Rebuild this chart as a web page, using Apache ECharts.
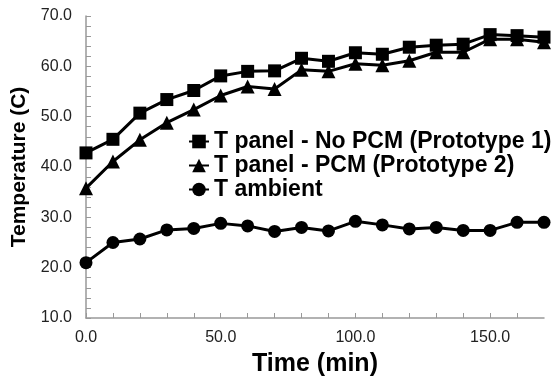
<!DOCTYPE html>
<html>
<head>
<meta charset="utf-8">
<script src="https://cdn.jsdelivr.net/npm/echarts@6/dist/echarts.min.js"></script>
<style>
  html, body { margin: 0; padding: 0; background: #fff; }
  #chart { width: 554px; height: 378px; }
</style>
</head>
<body>
<div id="chart"></div>
<script>
// time in minutes
const timeMin = [0, 10, 20, 30, 40, 50, 60, 70, 80, 90, 100, 110, 120, 130, 140, 150, 160, 170]
const panelNoPcm = [42.8, 45.5, 50.7, 53.4, 55.2, 58.1, 59.0, 59.1, 61.6, 61.0, 62.7, 62.4, 63.8, 64.2, 64.4, 66.3, 66.1, 65.8]
const panelPcm = [35.8, 41.1, 45.4, 48.8, 51.4, 54.2, 56.0, 55.5, 59.3, 59.0, 60.5, 60.2, 61.1, 62.8, 62.8, 65.4, 65.4, 64.8]
const ambient = [21.0, 25.0, 25.7, 27.5, 27.8, 28.8, 28.3, 27.2, 28.0, 27.3, 29.2, 28.5, 27.7, 28.0, 27.4, 27.4, 29.0, 29.0]
const seriesNames = ['T panel - No PCM (Prototype 1)', 'T panel - PCM (Prototype 2)', 'T ambient']

const chart = echarts.init(document.getElementById('chart'))

const pairs = vals => timeMin.map((t, i) => [t, vals[i]])

const lineSeries = (name, vals, symbol, size) => ({
  name: name,
  type: 'line',
  data: pairs(vals),
  symbol: symbol,
  symbolSize: size,
  color: '#000',
  lineStyle: { width: 3, color: '#000' },
  itemStyle: { color: '#000' },
  animation: false
})

const axisGray = '#999'

chart.setOption({
  textStyle: { fontFamily: 'Liberation Sans, Arial, sans-serif' },
  grid: { left: 86, right: 10, top: 16, bottom: 60, outerBoundsMode: 'none' },
  legend: {
    orient: 'vertical',
    left: 183,
    top: 125,
    itemGap: 1,
    itemWidth: 20,
    itemHeight: 17,
    textStyle: { fontSize: 23, fontWeight: 'bold', color: '#000' },
    data: seriesNames
  },
  xAxis: {
    type: 'value',
    min: 0,
    max: 170,
    interval: 10,
    name: 'Time (min)',
    nameLocation: 'middle',
    nameGap: 34,
    nameTextStyle: { fontSize: 25, fontWeight: 'bold', color: '#000' },
    axisLine: { lineStyle: { color: axisGray, width: 1.5 } },
    axisTick: { inside: true, length: 5, lineStyle: { color: axisGray } },
    splitLine: { show: false },
    axisLabel: {
      fontSize: 16,
      color: '#222',
      margin: 12,
      showMaxLabel: false,
      formatter: v => (v % 50 === 0 ? v.toFixed(1) : '')
    }
  },
  yAxis: {
    type: 'value',
    min: 10,
    max: 70,
    interval: 2,
    name: 'Temperature (C)',
    nameLocation: 'middle',
    nameGap: 49,
    nameTextStyle: { fontSize: 21, fontWeight: 'bold', color: '#000' },
    axisLine: { show: true, lineStyle: { color: axisGray, width: 1.5 } },
    axisTick: { show: true, inside: true, length: 5, lineStyle: { color: axisGray } },
    splitLine: { show: false },
    axisLabel: {
      fontSize: 16,
      color: '#222',
      margin: 14,
      formatter: v => (v % 10 === 0 ? v.toFixed(1) : '')
    }
  },
  series: [
    lineSeries(seriesNames[0], panelNoPcm, 'rect', 13),
    lineSeries(seriesNames[1], panelPcm, 'triangle', 14),
    lineSeries(seriesNames[2], ambient, 'circle', 13)
  ]
})

window.addEventListener('resize', () => chart.resize())
</script>
</body>
</html>
